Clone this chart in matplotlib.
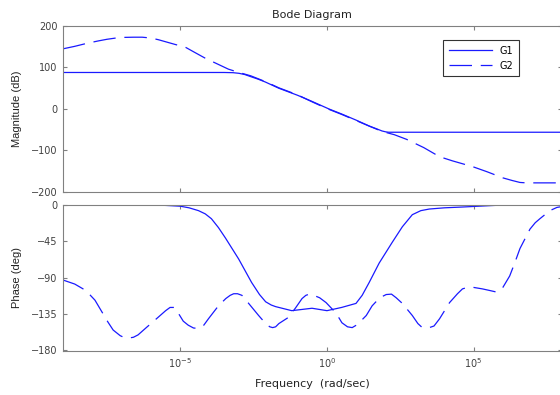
import numpy as np
import matplotlib
matplotlib.use("Agg")
import matplotlib.pyplot as plt
from matplotlib.ticker import FixedLocator, NullLocator

plt.rcParams['font.family'] = ['DejaVu Sans']
plt.rcParams['mathtext.fontset'] = 'dejavusans'

# log10(frequency) and values
g1_mag_logw = [-9, -3.5, -3.2, -3.0, -2.8, -2.6, -2.35, -2.1, -1.64, -1.0, -0.5, 0.07, 0.5, 1.0,
               1.44, 1.7, 1.88, 2.0, 2.1, 8]
g1_mag_db = [88, 88, 87.5, 86, 83, 78, 72, 65, 50, 33, 18, 0, -12, -27,
             -41, -48, -53, -55, -56, -56]

g2_mag_logw = [-9, -8.6, -8.2, -7.8, -7.5, -7.2, -6.95, -6.6, -6.3, -6.0, -5.75, -5.5, -5.2,
               -4.83, -4.5, -4.14, -3.75, -3.36, -3.0, -2.6, -2.1, -1.64, -1.0, -0.5, 0.0,
               0.5, 1.0, 1.5, 1.88, 2.3, 2.71, 3.3, 3.84, 4.28, 4.97, 5.45, 6.0, 6.3, 6.58,
               6.8, 8]
g2_mag_db = [145, 151, 158, 164, 168, 171, 172.5, 173, 173, 171, 167, 162, 156,
             149, 136, 122, 109, 96, 88, 80, 66, 51, 34, 17, 1,
             -13, -28, -43, -54, -62, -73, -93, -115, -125, -139, -151, -166, -172, -177,
             -178, -178]

g1_ph_logw = [-9, -6, -5.5, -5.0, -4.7, -4.38, -4.15, -3.94, -3.7, -3.46, -3.01, -2.57, -2.3,
              -2.09, -1.9, -1.75, -1.2, -0.51, 0.0, 0.5, 0.99, 1.2, 1.44, 1.78, 2.23, 2.57,
              2.91, 3.2, 3.49, 4.0, 4.62, 6, 8]
g1_ph_deg = [0, 0, -0.5, -1.5, -3.5, -7, -11, -17, -28, -41, -67, -96, -111,
             -120, -124, -126, -131, -128, -131, -127, -122, -112, -96, -72, -46, -27,
             -12, -7, -5, -3.5, -2.5, 0, 0]

g2_ph_logw = [-9.0, -8.6, -8.22, -7.91, -7.47, -7.29, -7.05, -6.9, -6.78, -6.6, -6.44, -6.16,
              -5.75, -5.5, -5.35, -5.2, -5.07, -4.9, -4.73, -4.55, -4.38, -4.2, -4.04, -3.70,
              -3.45, -3.3, -3.18, -3.05, -2.9, -2.67, -2.33, -2.09, -1.95, -1.85, -1.75,
              -1.64, -1.30, -1.06, -0.85, -0.72, -0.6, -0.45, -0.25, -0.03, 0.31, 0.51,
              0.7, 0.86, 1.0, 1.15, 1.34, 1.54, 1.8, 2.02, 2.2, 2.36, 2.57, 2.91, 3.1, 3.25,
              3.49, 3.65, 3.84, 4.18, 4.45, 4.62, 4.8, 4.97, 5.3, 5.55, 5.79, 6.0, 6.23,
              6.4, 6.58, 6.92, 7.1, 7.26, 7.60, 7.84, 8.0]
g2_ph_deg = [-93, -98, -106, -118, -145, -155, -162, -164.5, -165, -164, -161, -152,
             -139, -131, -127, -127, -134, -144, -149, -152.5, -153, -149, -141, -125,
             -116, -112, -110, -110, -112, -122, -137, -147, -151, -152, -151,
             -147, -139, -127, -116, -112, -110.5, -112, -115, -121, -134, -146,
             -151, -152, -149, -144, -137, -125, -115, -111, -110.5, -115, -122, -137, -147, -152,
             -152, -150, -141, -121, -110, -104, -102, -102, -104, -106, -108, -102, -88,
             -72, -54, -30, -22, -17, -7, -3, -2]

mag_yticks = [-200, -100, 0, 100, 200]
ph_yticks = [-180, -135, -90, -45, 0]
x_ticks = [1e-5, 1e0, 1e5]

W, H = 560, 395
fig = plt.figure(figsize=(W / 100, H / 100), dpi=100)

def px(x0, y0, x1, y1):
    return [x0 / W, 1 - y1 / H, (x1 - x0) / W, (y1 - y0) / H]

ax1 = fig.add_axes(px(63, 26, 561.6, 192))
ax2 = fig.add_axes(px(63, 205, 561.6, 351))

blue = '#1a1aff'
dash = (0, (18, 7))

ax1.plot(10 ** np.array(g1_mag_logw), g1_mag_db, color=blue, lw=0.9, label='G1')
ax1.plot(10 ** np.array(g2_mag_logw), g2_mag_db, color=blue, lw=0.9, ls=dash, label='G2')
ax2.plot(10 ** np.array(g1_ph_logw), g1_ph_deg, color=blue, lw=0.9)
ax2.plot(10 ** np.array(g2_ph_logw), g2_ph_deg, color=blue, lw=0.9, ls=dash)

for ax in (ax1, ax2):
    ax.set_xscale('log')
    ax.set_xlim(1e-9, 1e8)
    ax.xaxis.set_major_locator(FixedLocator(x_ticks))
    ax.xaxis.set_minor_locator(NullLocator())
    ax.tick_params(direction='in', top=True, right=True, length=3, width=0.8,
                   color='#808080', labelsize=7, labelcolor='#404040', pad=4)
    for s in ax.spines.values():
        s.set_color('#808080')
        s.set_linewidth(0.8)

ax1.set_ylim(-200, 200)
ax1.set_yticks(mag_yticks)
ax1.tick_params(labelbottom=False)
ax2.set_ylim(-181, 0)
ax2.set_yticks(ph_yticks)

ax1.set_title('Bode Diagram', fontsize=8, pad=6, color='#222222')
ax1.set_ylabel('Magnitude (dB)', fontsize=8, family='Liberation Sans', color='#222222')
ax2.set_ylabel('Phase (deg)', fontsize=8, family='Liberation Sans', color='#222222')
ax2.set_xlabel('Frequency  (rad/sec)', fontsize=8, labelpad=6, color='#222222')
ax1.yaxis.set_label_coords(-0.082, 0.5)
ax2.yaxis.set_label_coords(-0.082, 0.5)

leg = ax1.legend(loc='upper left', bbox_to_anchor=(0.762, 0.916), fontsize=7,
                 handlelength=4.4, frameon=True, fancybox=False, borderpad=0.6,
                 labelspacing=0.5, handletextpad=0.8, borderaxespad=0)
leg.get_frame().set_edgecolor('black')
leg.get_frame().set_linewidth(0.8)

fig.savefig('out.png', dpi=100)
